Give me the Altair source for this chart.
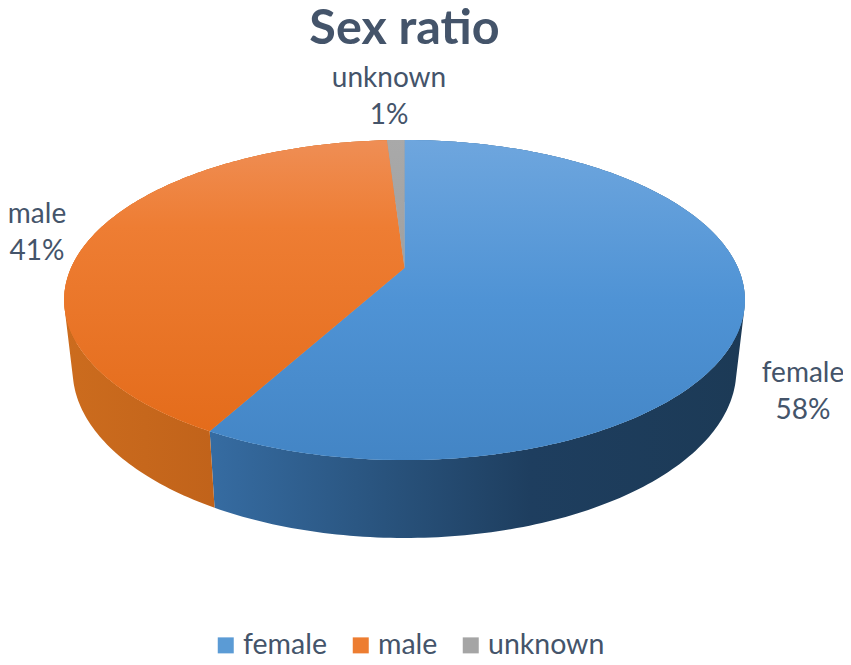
import math
import altair as alt

categories = ["female", "male", "unknown"]
shares = [58, 41, 1]
flat_colors = ["#5b9bd5", "#ed7d31", "#a5a5a5"]

FONT = "Lato"
INK = "#44546a"
LEFT, TOP = 8, 80 + 8


def grad_v(stops):
    return alt.Gradient(gradient="linear", x1=0, x2=0, y1=0, y2=1,
                        stops=[alt.GradientStop(offset=o, color=c) for o, c in stops])


def grad_h(stops):
    return alt.Gradient(gradient="linear", x1=0, x2=1, y1=0, y2=0,
                        stops=[alt.GradientStop(offset=o, color=c) for o, c in stops])


top_fills = [
    grad_v([(0, "#6ea6de"), (0.5, "#4f93d5"), (1, "#4385c5")]),
    grad_v([(0, "#ef8e55"), (0.3, "#ee7d33"), (1, "#e46c1b")]),
    grad_v([(0, "#a9a9a9"), (1, "#a0a0a0")]),
]
side_fills = [
    grad_h([(0, "#366ca2"), (0.3, "#2a5580"), (0.6, "#1e3e5f"), (1, "#1c3a56")]),
    grad_h([(0, "#cc6c1e"), (0.5, "#c0621a"), (1, "#ac5511")]),
    grad_h([(0, "#7a7a7a"), (1, "#7a7a7a")]),
]


def rim(angle):
    """Perspective view of a point on the pie's rim; angle clockwise from the top."""
    u, v = math.sin(angle), -math.cos(angle)
    w = 1 - 0.2 * v
    return 404.5 + 333.5 * u / w, (100 * v + 268) / w


def lower(p):
    return 404.5 + 0.975 * (p[0] - 404.5), p[1] + 70 + 0.05 * (p[1] - 300)


def arc_points(a0, a1):
    n = max(4, int((a1 - a0) * 60))
    return [rim(a0 + (a1 - a0) * i / n) for i in range(n + 1)]


def closed(ring):
    ring = [list(p) for p in ring]
    area = sum(ring[i][0] * ring[(i + 1) % len(ring)][1] - ring[(i + 1) % len(ring)][0] * ring[i][1]
               for i in range(len(ring)))
    if area < 0:
        ring.reverse()
    ring.append(ring[0])
    return ring


def feature(cat, ring):
    return {"type": "Feature", "properties": {"category": cat},
            "geometry": {"type": "Polygon", "coordinates": [closed(ring)]}}


def band(cat, pts):
    quads = [[closed([pts[i], pts[i + 1], lower(pts[i + 1]), lower(pts[i])])]
             for i in range(len(pts) - 1)]
    return {"type": "Feature", "properties": {"category": cat},
            "geometry": {"type": "MultiPolygon", "coordinates": quads}}


def geo(features):
    return alt.InlineData(values={"type": "FeatureCollection", "features": features},
                          format=alt.DataFormat(property="features", type="json"))


proj = dict(type="identity", scale=1, translate=[-LEFT, -TOP])

tops, sides = [], []
acc = 0
for c, s in zip(categories, shares):
    a0 = acc / 100 * 2 * math.pi
    acc += s
    a1 = acc / 100 * 2 * math.pi
    pts = arc_points(a0, a1)
    tops.append(feature(c, [(404.5, 268)] + pts))
    sides.append(band(c, pts))

layers = []
for f, fill in zip(sides, side_fills):
    layers.append(alt.Chart(geo([f])).mark_geoshape(fill=fill, strokeWidth=0).project(**proj))

base = alt.Chart(geo(tops)).mark_geoshape(strokeWidth=0).encode(
    color=alt.Color("properties.category:N",
                    scale=alt.Scale(domain=categories, range=flat_colors),
                    legend=alt.Legend(title=None, orient="none", direction="horizontal",
                                      legendX=203.5, legendY=631 - TOP,
                                      symbolType="square", symbolSize=256, symbolStrokeWidth=0,
                                      labelFont=FONT, labelFontSize=28.5, labelColor=INK,
                                      labelOffset=3, columnPadding=19, symbolOffset=0))
).project(**proj)
layers.append(base)

for f, fill in zip(tops, top_fills):
    layers.append(alt.Chart(geo([f])).mark_geoshape(fill=fill, strokeWidth=0).project(**proj))

label_spots = {"female": (803, 382), "male": (37, 223), "unknown": (389, 87)}
for c, s in zip(categories, shares):
    px, py = label_spots[c]
    layers.append(
        alt.Chart(alt.Data(values=[{"t": f"{c}\n{s}%"}])).mark_text(
            font=FONT, fontSize=28, color=INK, lineBreak="\n", lineHeight=37,
            align="center", baseline="alphabetic"
        ).encode(text="t:N", x=alt.value(px - LEFT), y=alt.value(py - TOP))
    )

chart = alt.layer(*layers).properties(
    width=835,
    height=577,
    padding={"left": 0, "top": 80, "right": 0, "bottom": 0},
    autosize=alt.AutoSizeParams(type="none"),
    title=alt.TitleParams("Sex ratio", font=FONT, fontSize=48.5, fontWeight="bold", color=INK,
                          anchor="middle", dx=-21, offset=11),
).configure_view(stroke=None)

chart.save("out.html", embed_options={"renderer": "svg", "actions": False})
